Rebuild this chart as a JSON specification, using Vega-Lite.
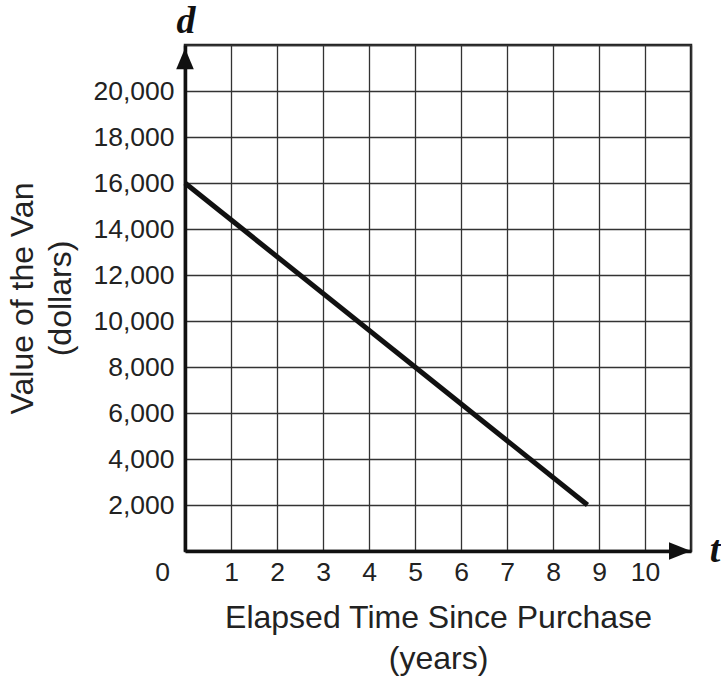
{
  "$schema": "https://vega.github.io/schema/vega-lite/v6.json",
  "width": 506,
  "height": 506,
  "autosize": {"type": "none"},
  "padding": {"left": 185, "top": 45, "right": 30, "bottom": 125},
  "background": "white",
  "config": {
    "view": {"stroke": "#222", "strokeWidth": 2.5},
    "font": "Liberation Sans"
  },
  "datasets": {
    "van": [{"t": 0, "d": 16000}, {"t": 8.75, "d": 2000}],
    "upArrow": [{"t": 0, "d": 22000}],
    "rightArrow": [{"t": 11, "d": 0}],
    "dLabel": [{"t": 0, "d": 22000, "lab": "d"}],
    "tLabel": [{"t": 11, "d": 0, "lab": "t"}]
  },
  "layer": [
    {
      "data": {"name": "van"},
      "mark": {"type": "line", "color": "#111", "strokeWidth": 5, "strokeCap": "butt"},
      "encoding": {
        "x": {
          "field": "t",
          "type": "quantitative",
          "scale": {"domain": [0, 11], "nice": false, "zero": true},
          "axis": {
            "values": [0, 1, 2, 3, 4, 5, 6, 7, 8, 9, 10, 11],
            "grid": true,
            "gridColor": "#333",
            "gridWidth": 1.3,
            "ticks": false,
            "tickSize": 0,
            "domainColor": "#111",
            "domainWidth": 3.5,
            "labelFontSize": 26.5,
            "labelColor": "#222",
            "labelPadding": 8,
            "labelFlush": false,
            "labelOverlap": false,
            "labelExpr": "datum.value == 11 ? '' : datum.label",
            "labelOffset": {"condition": {"test": "datum.value == 0", "value": -23}, "value": 0},
            "title": ["Elapsed Time Since Purchase", "(years)"],
            "titleFontSize": 32,
            "titleFontWeight": "normal",
            "titleColor": "#222",
            "titleLineHeight": 41,
            "titlePadding": 17
          }
        },
        "y": {
          "field": "d",
          "type": "quantitative",
          "scale": {"domain": [0, 22000], "nice": false, "zero": true},
          "axis": {
            "values": [0, 2000, 4000, 6000, 8000, 10000, 12000, 14000, 16000, 18000, 20000, 22000],
            "format": ",d",
            "grid": true,
            "gridColor": "#333",
            "gridWidth": 1.3,
            "ticks": false,
            "tickSize": 0,
            "domainColor": "#111",
            "domainWidth": 3.5,
            "labelFontSize": 26.5,
            "labelColor": "#222",
            "labelPadding": 11,
            "labelFlush": false,
            "labelOverlap": false,
            "labelExpr": "(datum.value == 0 || datum.value == 22000) ? '' : datum.label",
            "title": ["Value of the Van", "(dollars)"],
            "titleFontSize": 32,
            "titleFontWeight": "normal",
            "titleColor": "#222",
            "titleLineHeight": 38,
            "titlePadding": 15
          }
        }
      }
    },
    {
      "data": {"name": "upArrow"},
      "mark": {"type": "point", "shape": "M0,0.3L-0.8,2.2L0.8,2.2Z", "filled": true, "opacity": 1, "size": 484, "color": "#111", "strokeWidth": 0},
      "encoding": {
        "x": {"field": "t", "type": "quantitative"},
        "y": {"field": "d", "type": "quantitative"}
      }
    },
    {
      "data": {"name": "rightArrow"},
      "mark": {"type": "point", "shape": "M0,0L-2,-0.8L-2,0.8Z", "filled": true, "opacity": 1, "size": 484, "color": "#111", "strokeWidth": 0},
      "encoding": {
        "x": {"field": "t", "type": "quantitative"},
        "y": {"field": "d", "type": "quantitative"}
      }
    },
    {
      "data": {"name": "dLabel"},
      "mark": {"type": "text", "font": "Liberation Serif", "fontStyle": "italic", "fontWeight": "bold", "fontSize": 38, "color": "#111", "align": "center", "baseline": "middle", "dx": 1, "dy": -23},
      "encoding": {
        "x": {"field": "t", "type": "quantitative"},
        "y": {"field": "d", "type": "quantitative"},
        "text": {"field": "lab"}
      }
    },
    {
      "data": {"name": "tLabel"},
      "mark": {"type": "text", "font": "Liberation Serif", "fontStyle": "italic", "fontWeight": "bold", "fontSize": 38, "color": "#111", "align": "center", "baseline": "middle", "dx": 24, "dy": 0},
      "encoding": {
        "x": {"field": "t", "type": "quantitative"},
        "y": {"field": "d", "type": "quantitative"},
        "text": {"field": "lab"}
      }
    }
  ]
}
